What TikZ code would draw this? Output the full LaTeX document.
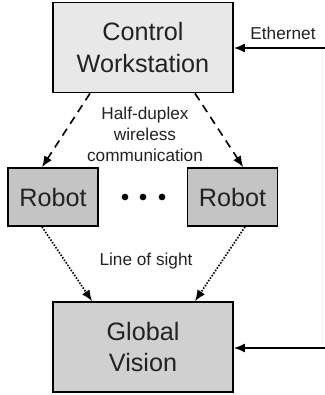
\documentclass[tikz,border=0pt]{standalone}
\usepackage{fontspec}
\setmainfont{Liberation Sans}
\usepackage{tikz}
\usetikzlibrary{arrows.meta, positioning, calc}
\definecolor{wsgray}{RGB}{232, 232, 232}
\definecolor{robotgray}{RGB}{196, 196, 196}
\definecolor{visiongray}{RGB}{208, 208, 208}
\definecolor{textgray}{RGB}{34, 34, 34}
\definecolor{faintline}{RGB}{242, 242, 242}
\tikzstyle{bigblock} = [rectangle, draw=black, fill=wsgray, minimum width=5.4cm, minimum height=2.7cm, align=center, line width=1.5pt, text=textgray, font=\fontsize{21.5}{27}\selectfont]
\tikzstyle{robotblock} = [rectangle, draw=black, fill=robotgray, minimum width=2.7cm, minimum height=1.74cm, align=center, line width=1.5pt, text=textgray, font=\fontsize{21.5}{26}\selectfont]
\tikzstyle{lbl} = [align=center, text=textgray, font=\fontsize{14.7}{18}\selectfont]
\tikzstyle{arrow} = [-{Latex[length=3.3mm, width=2.7mm]}, line width=1.4pt]

\begin{document}
\begin{tikzpicture}
    \useasboundingbox (0, 0) rectangle (9.75, -11.85);
    % Workstation and vision blocks
    \node[bigblock] (cw) at (4.29, -1.425) {Control\\Workstation};
    \node[bigblock, fill=visiongray] (gv) at (4.29, -10.41) {Global\\Vision};

    % Robots
    \node[robotblock] (robotl) at (1.59, -5.91) {Robot};
    \node[robotblock] (robotr) at (6.975, -5.91) {Robot};
    \foreach \x in {3.75, 4.29, 4.86}
        \fill (\x, -5.91) circle (0.1);

    % Wireless links
    \draw[arrow, dash pattern=on 7pt off 5pt] ([xshift=-1.59cm]cw.south) -- ([xshift=-0.33cm]robotl.north);
    \draw[arrow, dash pattern=on 7pt off 5pt] ([xshift=1.56cm]cw.south) -- ([xshift=0.32cm]robotr.north);
    \node[lbl] (wireless) at (4.35, -4.02) {Half-duplex\\wireless\\communication};

    % Line of sight
    \draw[arrow, dash pattern=on 1.3pt off 1.3pt] ([xshift=-0.33cm]robotl.south) -- ([xshift=-1.53cm]gv.north);
    \draw[arrow, dash pattern=on 1.3pt off 1.3pt] ([xshift=0.375cm]robotr.south) -- ([xshift=1.56cm]gv.north);
    \node[lbl] (los) at (4.38, -7.83) {Line of sight};

    % Ethernet
    \coordinate (ethin) at (9.75, -1.44);
    \coordinate (visin) at (9.75, -10.44);
    \draw[faintline, line width=0.6pt] (9.66, -1.44) -- (9.66, -10.44);
    \draw[arrow] (ethin) -- (ethin -| cw.east);
    \draw[arrow] (visin) -- (visin -| gv.east);
    \node[lbl] (eth) at (8.49, -0.99) {Ethernet};
\end{tikzpicture}
\end{document}
